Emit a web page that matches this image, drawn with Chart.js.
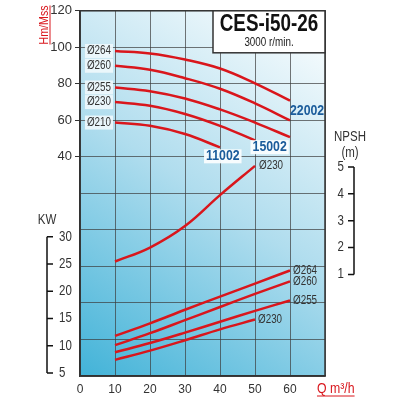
<!DOCTYPE html>
<html>
<head>
<meta charset="utf-8">
<script src="https://cdn.jsdelivr.net/npm/chart.js@4.4.1/dist/chart.umd.min.js"></script>
<style>
  html, body { margin: 0; padding: 0; background: #fff; }
</style>
</head>
<body>
<canvas id="pumpChart" width="400" height="400"></canvas>
<script>
// flow points (m3/h)
const flow = [10, 20, 30, 40, 50, 60];

// head curves (m) per impeller diameter
const head264 = [98.0, 96.6, 93.3, 88.4, 80.3, 70.8];
const head260 = [89.9, 87.7, 83.1, 77.3, 69.3, 60.0];
const head255 = [78.0, 76.0, 72.0, 66.0, 58.8, 50.8];
const head230 = [70.0, 68.0, 63.5, 57.0, 49.0];
const head210 = [58.8, 57.0, 52.5, 45.2];

// absorbed power (kW)
const kw264 = [11.8, 14.1, 16.6, 19.0, 21.4, 23.8];
const kw260 = [10.1, 12.3, 14.7, 17.1, 19.5, 21.8];
const kw255 = [8.8, 10.5, 12.4, 14.4, 16.4, 18.3];
const kw230 = [7.4, 9.1, 11.0, 13.0, 14.8];

// NPSH (m), Ø230
const npsh230 = [1.48, 2.0, 2.8, 3.95, 5.04];

const headNames = ["Ø264", "Ø260", "Ø255", "Ø230", "Ø210"];
const kwNames = ["Ø264", "Ø260", "Ø255", "Ø230"];
const headTickLabels = [40, 60, 80, 100, 120];
const kwTicks = [5, 10, 15, 20, 25, 30];
const npshTicks = [1, 2, 3, 4, 5];
const motorLabels = ["22002", "15002", "11002"];

const FONT = "'Liberation Sans', Arial, sans-serif";
const RED = "#d9161c";
const TXT = "#333";
const BLUE = "#1b5c9b";
const SQUEEZE = 0.82; // the original uses a condensed face

const headCurves = [head264, head260, head255, head230, head210];
const kwCurves = [kw264, kw260, kw255, kw230];

function pts(values) {
    return values.map((v, i) => ({ x: flow[i], y: v }));
}

function curve(values, axis) {
    return {
        data: pts(values),
        yAxisID: axis,
        borderColor: RED,
        borderWidth: 2.5,
        pointRadius: 0,
        tension: 0.4,
        fill: false
    };
}

const datasets = [];
headCurves.forEach(c => datasets.push(curve(c, "y")));
kwCurves.forEach(c => datasets.push(curve(c, "kw")));
datasets.push(curve(npsh230, "npsh"));

// condensed text helper
function text(ctx, str, x, y, font, color, align, bg) {
    ctx.save();
    ctx.font = font;
    ctx.textBaseline = "middle";
    ctx.textAlign = "left";
    const w = ctx.measureText(str).width * SQUEEZE;
    let x0 = x;
    if (align === "right") x0 = x - w;
    if (align === "center") x0 = x - w / 2;
    if (bg) {
        ctx.fillStyle = bg;
        ctx.fillRect(x0 - 2, y - 7, w + 4, 14);
    }
    ctx.translate(x0, y);
    ctx.scale(SQUEEZE, 1);
    ctx.fillStyle = color;
    ctx.fillText(str, 0, 0);
    ctx.restore();
    return w;
}

const decor = {
    id: "decor",
    beforeDraw(chart) {
        const { ctx, chartArea: a } = chart;
        ctx.save();
        ctx.fillStyle = "#fff";
        ctx.fillRect(0, 0, chart.width, chart.height);
        const g = ctx.createLinearGradient(a.left, a.bottom, a.right, a.top);
        g.addColorStop(0, "#42b3d8");
        g.addColorStop(0.5, "#b0ddee");
        g.addColorStop(1, "#ffffff");
        ctx.fillStyle = g;
        ctx.fillRect(a.left, a.top, a.width, a.height);
        ctx.restore();
    },
    afterDraw(chart) {
        const { ctx, chartArea: a, scales } = chart;
        const xs = scales.x, ys = scales.y, ks = scales.kw, ns = scales.npsh;
        ctx.save();

        // frame
        ctx.strokeStyle = "#333";
        ctx.lineWidth = 1.5;
        ctx.strokeRect(a.left, a.top, a.width, a.height);

        // title box
        ctx.fillStyle = "#fff";
        ctx.fillRect(213, a.top, a.right - 213, 42);
        ctx.strokeRect(213, a.top, a.right - 213, 42);
        text(ctx, "CES-i50-26", 269, 25, "bold 23px " + FONT, "#111", "center");
        text(ctx, "3000 r/min.", 269, 43, "12px " + FONT, "#222", "center");

        // impeller labels on head curves
        const small = "12px " + FONT;
        headCurves.forEach((c, i) => {
            text(ctx, headNames[i], xs.getPixelForValue(flow[0]) - 4,
                ys.getPixelForValue(c[0]), small, TXT, "right", "rgba(240,248,252,0.9)");
        });

        // motor labels
        const bold = "bold 15px " + FONT;
        text(ctx, motorLabels[0], xs.getPixelForValue(60), ys.getPixelForValue(65), bold, BLUE, "left");
        text(ctx, motorLabels[1], xs.getPixelForValue(49.3), ys.getPixelForValue(45.3), bold, BLUE, "left", "rgba(250,253,254,0.95)");
        text(ctx, motorLabels[2], xs.getPixelForValue(40.8), ys.getPixelForValue(40.3), bold, BLUE, "center", "rgba(250,253,254,0.95)");

        // NPSH curve label
        const nEnd = npsh230.length - 1;
        text(ctx, "Ø230", xs.getPixelForValue(flow[nEnd]) + 4,
            ns.getPixelForValue(npsh230[nEnd]), small, TXT, "left");

        // power curve labels
        kwCurves.forEach((c, i) => {
            const e = c.length - 1;
            text(ctx, kwNames[i], xs.getPixelForValue(flow[e]) + 3,
                ks.getPixelForValue(c[e]), small, TXT, "left");
        });

        // KW bracket axis
        ctx.strokeStyle = "#111";
        ctx.lineWidth = 1.5;
        const kx = 47;
        ctx.beginPath();
        ctx.moveTo(kx, ks.getPixelForValue(kwTicks[kwTicks.length - 1]));
        ctx.lineTo(kx, ks.getPixelForValue(kwTicks[0]));
        kwTicks.forEach(v => {
            const y = ks.getPixelForValue(v);
            ctx.moveTo(kx, y);
            ctx.lineTo(kx + 6, y);
        });
        ctx.stroke();
        kwTicks.forEach(v => text(ctx, String(v), kx + 12, ks.getPixelForValue(v), "14px " + FONT, TXT, "left"));
        text(ctx, "KW", 47, 220, "14px " + FONT, TXT, "center");

        // NPSH bracket axis
        const nx = 354;
        ctx.beginPath();
        ctx.moveTo(nx, ns.getPixelForValue(npshTicks[npshTicks.length - 1]));
        ctx.lineTo(nx, ns.getPixelForValue(npshTicks[0]));
        npshTicks.forEach(v => {
            const y = ns.getPixelForValue(v);
            ctx.moveTo(nx - 6, y);
            ctx.lineTo(nx, y);
        });
        ctx.stroke();
        npshTicks.forEach(v => text(ctx, String(v), nx - 10, ns.getPixelForValue(v), "14px " + FONT, TXT, "right"));
        text(ctx, "NPSH", 350, 137, "14px " + FONT, TXT, "center");
        text(ctx, "(m)", 350, 153, "14px " + FONT, TXT, "center");

        // axis titles
        ctx.save();
        ctx.translate(48, 25);
        ctx.rotate(-Math.PI / 2);
        ctx.font = "13px " + FONT;
        const hw = ctx.measureText("Hm/Mss").width * SQUEEZE;
        ctx.save();
        ctx.translate(-hw / 2, 0);
        ctx.scale(SQUEEZE, 1);
        ctx.textAlign = "left";
        ctx.textBaseline = "alphabetic";
        ctx.fillStyle = RED;
        ctx.fillText("Hm/Mss", 0, 0);
        ctx.restore();
        ctx.strokeStyle = RED;
        ctx.lineWidth = 1;
        ctx.beginPath();
        ctx.moveTo(-hw / 2, 2);
        ctx.lineTo(hw / 2, 2);
        ctx.stroke();
        ctx.restore();

        ctx.save();
        ctx.font = "15px " + FONT;
        const qw = ctx.measureText("Q m³/h").width * SQUEEZE;
        ctx.translate(317, 393);
        ctx.scale(SQUEEZE, 1);
        ctx.textAlign = "left";
        ctx.textBaseline = "alphabetic";
        ctx.fillStyle = RED;
        ctx.fillText("Q m³/h", 0, 0);
        ctx.restore();
        ctx.strokeStyle = RED;
        ctx.lineWidth = 1;
        ctx.beginPath();
        ctx.moveTo(317, 396);
        ctx.lineTo(317 + qw, 396);
        ctx.stroke();

        ctx.restore();
    }
};

Chart.defaults.font.family = FONT;
Chart.defaults.color = TXT;

new Chart(document.getElementById("pumpChart"), {
    type: "line",
    data: { datasets: datasets },
    options: {
        responsive: false,
        animation: false,
        layout: { padding: { left: 0, right: 75, top: 9, bottom: 0 } },
        plugins: {
            legend: { display: false },
            tooltip: { enabled: false }
        },
        scales: {
            x: {
                type: "linear",
                min: 0,
                max: 70,
                ticks: {
                    stepSize: 10,
                    padding: 6,
                    font: { size: 12 },
                    callback: v => (v <= 60 ? v : "")
                },
                grid: { color: "rgba(60,60,60,0.7)", drawTicks: false },
                border: { color: "#333", width: 1.5 },
                afterFit: s => { s.height = 24; }
            },
            y: {
                position: "left",
                min: -80,
                max: 120,
                ticks: {
                    stepSize: 20,
                    padding: 3,
                    font: { size: 13 },
                    callback: v => (headTickLabels.includes(v) ? v : "")
                },
                grid: {
                    color: "rgba(60,60,60,0.7)",
                    tickLength: 5,
                    tickColor: c => (c.tick && headTickLabels.includes(c.tick.value) ? "#333" : "rgba(0,0,0,0)")
                },
                border: { color: "#333", width: 1.5 },
                afterFit: s => { s.width = 80; }
            },
            kw: {
                display: false,
                min: 4.45,
                max: 71.42
            },
            npsh: {
                display: false,
                min: -2.78,
                max: 10.81
            }
        }
    },
    plugins: [decor]
});
</script>
</body>
</html>
